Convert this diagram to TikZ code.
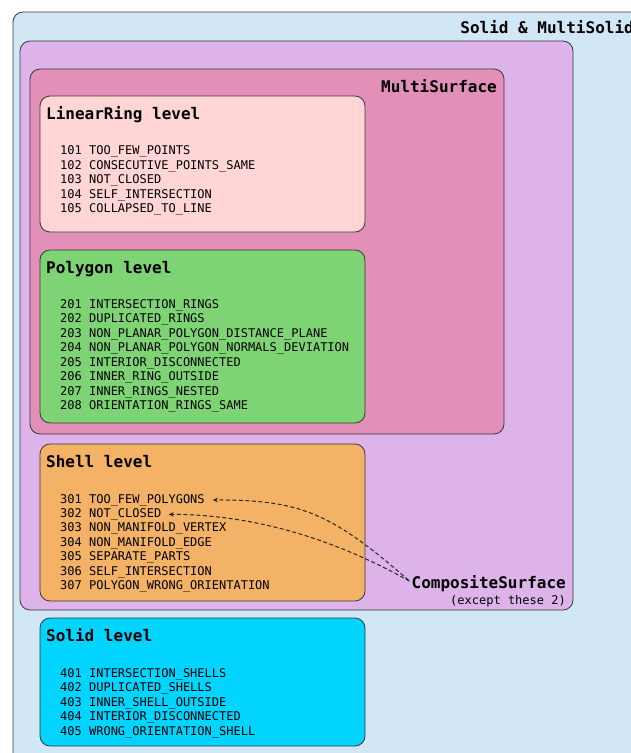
\documentclass[tikz,border=0pt]{standalone}
\usepackage{fontspec}
\setmonofont{DejaVu Sans Mono}
\usetikzlibrary{arrows.meta}

\definecolor{solidbg}{HTML}{D2E7F5}
\definecolor{compbg}{HTML}{DDB3EA}
\definecolor{msurfbg}{HTML}{E290B8}
\definecolor{ringbg}{HTML}{FFD5D5}
\definecolor{polybg}{HTML}{7ED474}
\definecolor{shellbg}{HTML}{F4B266}
\definecolor{solidlvl}{HTML}{00D4FF}

\begin{document}
\begin{tikzpicture}[x=1pt, y=-1pt,
    box/.style={draw=black!78, line width=0.8pt, rounded corners=10pt},
    title/.style={anchor=base west, inner sep=0pt, font=\ttfamily\bfseries\fontsize{16}{18}\selectfont},
    rtitle/.style={title, anchor=base east},
    code/.style={anchor=base west, inner sep=0pt, font=\ttfamily\fontsize{12}{14}\selectfont},
    note/.style={code, anchor=base east},
    link/.style={-{Stealth[length=5pt,width=4.5pt]}, dash pattern=on 4pt off 2.5pt, line width=1pt, black!85},
]
\clip (0,0) rectangle (631,753);

% nested containers
\draw[box, fill=solidbg] (13,12) rectangle (720,800);
\draw[box, fill=compbg] (20,41) rectangle (573,610);
\draw[box, fill=msurfbg] (30,69) rectangle (504,434);
\node[rtitle] (solidlbl) at (634,33) {Solid \& MultiSolid};
\node[rtitle] (msurflbl) at (497,92) {MultiSurface};
\node[rtitle] (comp) at (566,588) {CompositeSurface};
\node[note] (except) at (566,604.5) {(except these 2)};

% LinearRing level
\draw[box, fill=ringbg] (40,96) rectangle (365,232);
\node[title] (ringlbl) at (46,119) {LinearRing level};
\foreach \txt [count=\i] in {101 TOO\_FEW\_POINTS, 102 CONSECUTIVE\_POINTS\_SAME,
    103 NOT\_CLOSED, 104 SELF\_INTERSECTION, 105 COLLAPSED\_TO\_LINE}
  \node[code] (r\i) at (60,{140+14.5*\i}) {\txt};

% Polygon level
\draw[box, fill=polybg] (40,250) rectangle (365,423);
\node[title] (polylbl) at (46,273) {Polygon level};
\foreach \txt [count=\i] in {201 INTERSECTION\_RINGS, 202 DUPLICATED\_RINGS,
    203 NON\_PLANAR\_POLYGON\_DISTANCE\_PLANE, 204 NON\_PLANAR\_POLYGON\_NORMALS\_DEVIATION,
    205 INTERIOR\_DISCONNECTED, 206 INNER\_RING\_OUTSIDE, 207 INNER\_RINGS\_NESTED,
    208 ORIENTATION\_RINGS\_SAME}
  \node[code] (p\i) at (60,{293.5+14.5*\i}) {\txt};

% Shell level
\draw[box, fill=shellbg] (40,444) rectangle (365,601);
\node[title] (shelllbl) at (46,467) {Shell level};
\foreach \txt [count=\i] in {301 TOO\_FEW\_POLYGONS, 302 NOT\_CLOSED,
    303 NON\_MANIFOLD\_VERTEX, 304 NON\_MANIFOLD\_EDGE, 305 SEPARATE\_PARTS,
    306 SELF\_INTERSECTION, 307 POLYGON\_WRONG\_ORIENTATION}
  \node[code] (s\i) at (60,{488.6+14.4*\i}) {\txt};

% Solid level
\draw[box, fill=solidlvl] (40,618) rectangle (365,746);
\node[title] (solidlvllbl) at (46,641) {Solid level};
\foreach \txt [count=\i] in {401 INTERSECTION\_SHELLS, 402 DUPLICATED\_SHELLS,
    403 INNER\_SHELL\_OUTSIDE, 404 INTERIOR\_DISCONNECTED, 405 WRONG\_ORIENTATION\_SHELL}
  \node[code] (d\i) at (60,{662.5+14.5*\i}) {\txt};

% exceptions for CompositeSurface
\draw[link] ([xshift=-3pt,yshift=3pt]comp.west) .. controls +(-78,-68) and +(87,0) .. ([xshift=8pt]s1.east);
\draw[link] ([xshift=-2pt,yshift=2pt]comp.west) .. controls +(-80,-45) and +(80,0) .. ([xshift=7pt]s2.east);
\end{tikzpicture}
\end{document}
